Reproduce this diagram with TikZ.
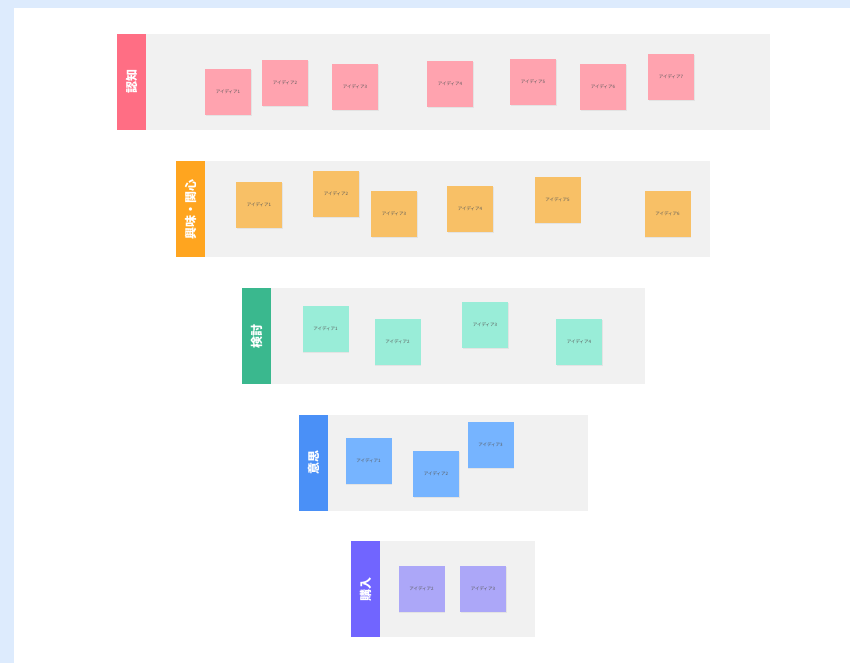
\documentclass[tikz,border=0pt]{standalone}
\usepackage{fontspec}
\newfontfamily\jpfont{Noto Sans CJK JP}
\usetikzlibrary{shadows}
\definecolor{bgblue}{HTML}{DDEBFD}
\definecolor{bandgray}{HTML}{F1F1F1}
\definecolor{notetext}{HTML}{5A5A5A}
\definecolor{pinktab}{HTML}{FF6E84}
\definecolor{pinknote}{HTML}{FFA3AF}
\definecolor{orangetab}{HTML}{FFA51F}
\definecolor{orangenote}{HTML}{F8C066}
\definecolor{greentab}{HTML}{3AB88E}
\definecolor{greennote}{HTML}{99EDD8}
\definecolor{bluetab}{HTML}{4A90F7}
\definecolor{bluenote}{HTML}{76B4FF}
\definecolor{purpletab}{HTML}{7165FF}
\definecolor{purplenote}{HTML}{ACA7F8}

\begin{document}
\begin{tikzpicture}[x=1pt, y=-1pt,
	band/.style={fill=bandgray, minimum height=96pt, inner sep=0pt},
	tab/.style={minimum width=96pt, minimum height=29pt, inner sep=0pt, rotate=90, text=white, font=\jpfont\bfseries\fontsize{12}{14}\selectfont},
	note/.style={minimum size=46pt, inner sep=0pt, text=notetext, font=\jpfont\fontsize{4.5}{5}\selectfont, drop shadow={opacity=0.12, shadow xshift=0.6pt, shadow yshift=-1pt}}]
				\fill[bgblue] (0,0) rectangle (850,663);
				\fill[white] (14,8) rectangle (850,663);
				\node[band, minimum width=624pt] (R1)at(458, 82) {};
				\node[tab, fill=pinktab] (T1)at(131.5, 82) {認知};
				\node[note, fill=pinknote] (A1)at(228, 92) {アイディア1};
				\node[note, fill=pinknote] (A2)at(285, 83) {アイディア2};
				\node[note, fill=pinknote] (A3)at(355, 87) {アイディア3};
				\node[note, fill=pinknote] (A4)at(450, 84) {アイディア4};
				\node[note, fill=pinknote] (A5)at(533, 82) {アイディア5};
				\node[note, fill=pinknote] (A6)at(603, 87) {アイディア6};
				\node[note, fill=pinknote] (A7)at(671, 77) {アイディア7};
				\node[band, minimum width=505pt] (R2)at(457.5, 209) {};
				\node[tab, fill=orangetab] (T2)at(190.5, 209) {興味・関心};
				\node[note, fill=orangenote] (B1)at(259, 205) {アイディア1};
				\node[note, fill=orangenote] (B2)at(336, 194) {アイディア2};
				\node[note, fill=orangenote] (B3)at(394, 214) {アイディア3};
				\node[note, fill=orangenote] (B4)at(470, 209) {アイディア4};
				\node[note, fill=orangenote] (B5)at(557.5, 200) {アイディア5};
				\node[note, fill=orangenote] (B6)at(667.5, 214) {アイディア6};
				\node[band, minimum width=374pt] (R3)at(458, 336) {};
				\node[tab, fill=greentab] (T3)at(256.5, 336) {検討};
				\node[note, fill=greennote] (C1)at(325.5, 329) {アイディア1};
				\node[note, fill=greennote] (C2)at(397.5, 342) {アイディア2};
				\node[note, fill=greennote] (C3)at(485, 325) {アイディア3};
				\node[note, fill=greennote] (C4)at(579, 342) {アイディア4};
				\node[band, minimum width=260pt] (R4)at(458, 462.5) {};
				\node[tab, fill=bluetab] (T4)at(313.5, 462.5) {意思};
				\node[note, fill=bluenote] (D1)at(368.5, 460.5) {アイディア1};
				\node[note, fill=bluenote] (D2)at(436, 474) {アイディア2};
				\node[note, fill=bluenote] (D3)at(490.5, 444.5) {アイディア3};
				\node[band, minimum width=155pt] (R5)at(457.5, 589) {};
				\node[tab, fill=purpletab] (T5)at(365.5, 589) {購入};
				\node[note, fill=purplenote] (E1)at(421.5, 589) {アイディア2};
				\node[note, fill=purplenote] (E2)at(483, 589) {アイディア3};
			\end{tikzpicture}
\end{document}
